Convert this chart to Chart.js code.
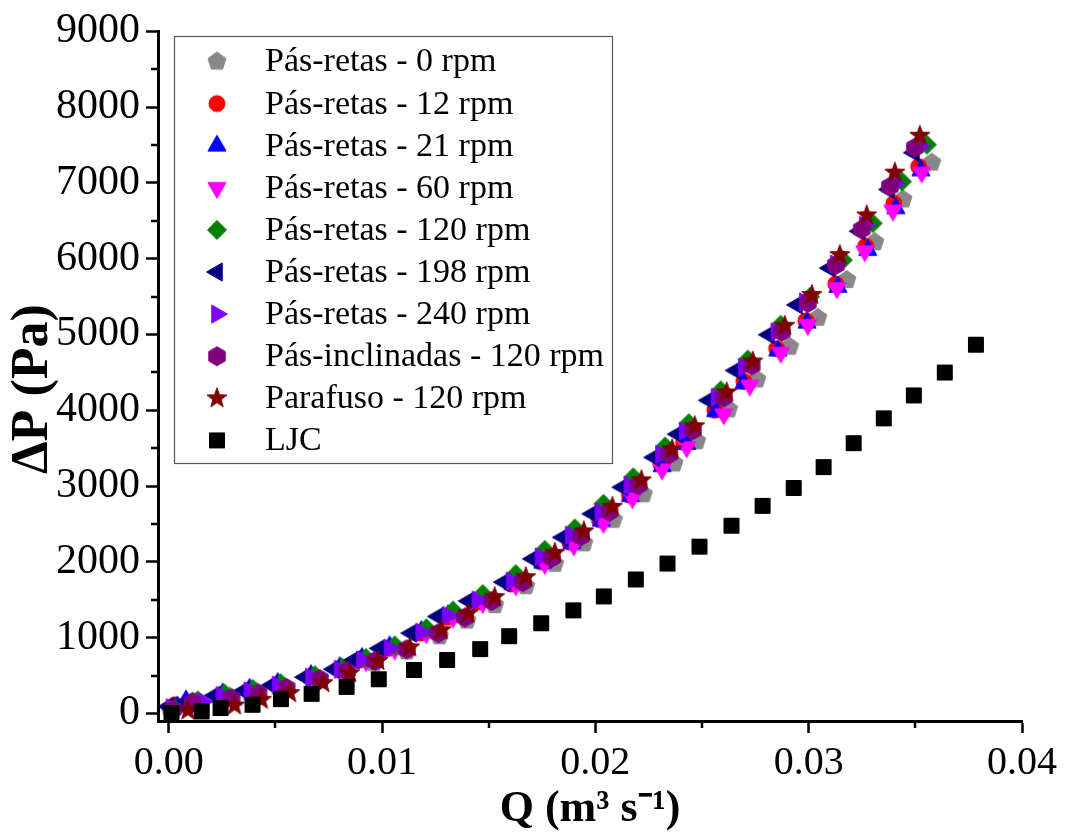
<!DOCTYPE html>
<html><head><meta charset="utf-8">
<script src="https://cdn.jsdelivr.net/npm/chart.js@4.4.0/dist/chart.umd.min.js"></script>
<style>html,body{margin:0;padding:0;background:#fff}canvas{display:block}</style>
</head><body>
<canvas id="c" width="1067" height="836"></canvas>
<script>
// ---------------- data ----------------
const seriesNames = ['Pás-retas - 0 rpm','Pás-retas - 12 rpm','Pás-retas - 21 rpm','Pás-retas - 60 rpm','Pás-retas - 120 rpm','Pás-retas - 198 rpm','Pás-retas - 240 rpm','Pás-inclinadas - 120 rpm','Parafuso - 120 rpm','LJC'];

const q0rpm = [0.00005,0.00128,0.00286,0.00412,0.00544,0.00700,0.00826,0.00962,0.01116,0.01269,0.01398,0.01528,0.01674,0.01810,0.01946,0.02085,0.02225,0.02369,0.02475,0.02625,0.02757,0.02911,0.03043,0.03179,0.03310,0.03442,0.03577];
const p0rpm = [62,144,223,285,347,451,543,666,819,1019,1226,1430,1680,1974,2245,2555,2892,3299,3592,4012,4406,4838,5219,5718,6217,6781,7267];

const q12rpm = [0.00030,0.00137,0.00243,0.00374,0.00506,0.00662,0.00797,0.00901,0.01032,0.01180,0.01305,0.01444,0.01604,0.01744,0.01880,0.02019,0.02160,0.02308,0.02414,0.02560,0.02696,0.02850,0.02987,0.03127,0.03267,0.03399,0.03516];
const p12rpm = [114,157,236,298,373,478,582,705,858,1059,1266,1469,1706,2000,2258,2555,2879,3286,3579,3999,4380,4812,5180,5666,6164,6728,7214];

const q21rpm = [0.00040,0.00081,0.00253,0.00379,0.00511,0.00667,0.00802,0.00906,0.01036,0.01184,0.01309,0.01453,0.01613,0.01754,0.01890,0.02028,0.02164,0.02313,0.02428,0.02564,0.02696,0.02855,0.02992,0.03137,0.03277,0.03409,0.03526];
const p21rpm = [88,170,262,324,399,504,609,731,884,1085,1292,1483,1706,1987,2245,2542,2866,3260,3553,3986,4353,4786,5154,5626,6112,6663,7162];

const q60rpm = [0.00010,0.00113,0.00262,0.00393,0.00525,0.00681,0.00811,0.00925,0.01060,0.01208,0.01333,0.01472,0.01627,0.01763,0.01899,0.02038,0.02174,0.02313,0.02428,0.02602,0.02724,0.02869,0.02996,0.03132,0.03263,0.03395,0.03530];
const p60rpm = [50,144,210,285,360,465,569,692,845,1059,1266,1456,1693,1974,2218,2516,2840,3221,3513,3946,4327,4760,5127,5613,6099,6636,7136];

const q120rpm = [0.00030,0.00137,0.00262,0.00393,0.00525,0.00685,0.00811,0.00925,0.01060,0.01208,0.01333,0.01472,0.01627,0.01763,0.01904,0.02038,0.02178,0.02327,0.02438,0.02588,0.02715,0.02869,0.03006,0.03160,0.03300,0.03437,0.03554];
const p120rpm = [62,170,262,324,399,504,609,731,897,1124,1357,1574,1837,2157,2441,2765,3115,3522,3828,4261,4668,5127,5495,5980,6466,7017,7503];

const q198rpm = [0.00000,0.00090,0.00215,0.00351,0.00483,0.00639,0.00774,0.00868,0.00989,0.01137,0.01262,0.01406,0.01571,0.01707,0.01848,0.01986,0.02127,0.02276,0.02386,0.02532,0.02658,0.02813,0.02945,0.03099,0.03239,0.03376,0.03493];
const p198rpm = [92,157,236,298,373,478,582,705,858,1059,1279,1483,1732,2039,2323,2634,2984,3378,3684,4130,4524,4996,5390,5875,6361,6912,7398];

const q240rpm = [0.00014,0.00160,0.00248,0.00379,0.00511,0.00667,0.00802,0.00906,0.01036,0.01184,0.01309,0.01448,0.01608,0.01744,0.01885,0.02024,0.02160,0.02308,0.02419,0.02569,0.02696,0.02850,0.02982,0.03127,0.03263,0.03404,0.03521];
const p240rpm = [75,157,236,298,373,478,582,705,858,1072,1292,1496,1746,2066,2350,2660,3010,3417,3723,4169,4563,5035,5429,5928,6440,6991,7477];

const qIncl = [0.00020,0.00113,0.00295,0.00421,0.00553,0.00709,0.00835,0.00967,0.01116,0.01264,0.01389,0.01514,0.01660,0.01796,0.01932,0.02066,0.02202,0.02346,0.02457,0.02602,0.02733,0.02874,0.02996,0.03127,0.03249,0.03381,0.03498];
const pIncl = [50,144,197,259,334,451,556,692,845,1059,1266,1483,1732,2052,2336,2660,3010,3417,3737,4169,4590,5035,5416,5915,6387,6951,7464];

const qParafuso = [0.00090,0.00309,0.00435,0.00567,0.00723,0.00849,0.00981,0.01130,0.01278,0.01403,0.01528,0.01674,0.01810,0.01946,0.02080,0.02216,0.02360,0.02466,0.02616,0.02738,0.02888,0.03015,0.03146,0.03272,0.03404,0.03521];
const pParafuso = [39,105,180,268,399,530,692,871,1098,1318,1535,1798,2118,2402,2726,3076,3483,3789,4235,4642,5114,5521,6046,6571,7135,7621];

const qLJC = [0.00013,0.00155,0.00243,0.00393,0.00526,0.00670,0.00834,0.00985,0.01150,0.01305,0.01460,0.01596,0.01746,0.01897,0.02040,0.02190,0.02338,0.02488,0.02638,0.02784,0.02930,0.03070,0.03211,0.03352,0.03493,0.03638,0.03784];
const pLJC = [5,26,71,114,189,258,350,451,573,705,849,1019,1190,1360,1544,1767,1977,2200,2476,2738,2974,3250,3565,3893,4195,4497,4864];

const xTickValues = [0, 0.01, 0.02, 0.03, 0.04];
const xMinorValues = [0.005, 0.015, 0.025, 0.035];
const yTickValues = [0,1000,2000,3000,4000,5000,6000,7000,8000,9000];
const yMinorValues = [500,1500,2500,3500,4500,5500,6500,7500,8500];

// ---------------- markers ----------------
function polyPts(n, r, startDeg) {
  const pts = [];
  for (let k = 0; k < n; k++) {
    const a = (startDeg + k * 360 / n) * Math.PI / 180;
    pts.push([r * Math.cos(a), r * Math.sin(a)]);
  }
  return pts;
}
function makeMarker(shape, color) {
  const S = 24, c = document.createElement('canvas');
  c.width = S; c.height = S;
  const g = c.getContext('2d');
  g.translate(S / 2, S / 2);
  g.fillStyle = color; g.strokeStyle = color; g.lineWidth = 1;
  g.beginPath();
  let pts = null;
  if (shape === 'circle') { g.arc(0, 0, 8, 0, Math.PI * 2); }
  else if (shape === 'square') { g.rect(-7.5, -7.5, 15, 15); }
  else if (shape === 'pentagon') pts = polyPts(5, 9.5, -90);
  else if (shape === 'hexagon') pts = polyPts(6, 9.5, -90);
  else if (shape === 'up') pts = polyPts(3, 10.5, -90);
  else if (shape === 'down') pts = polyPts(3, 10.5, 90);
  else if (shape === 'left') pts = polyPts(3, 10.5, 180);
  else if (shape === 'right') pts = polyPts(3, 10.5, 0);
  else if (shape === 'diamond') pts = polyPts(4, 9.5, -90);
  else if (shape === 'star') {
    pts = [];
    for (let k = 0; k < 10; k++) {
      const r = k % 2 === 0 ? 10.5 : 4.3;
      const a = (-90 + k * 36) * Math.PI / 180;
      pts.push([r * Math.cos(a), r * Math.sin(a)]);
    }
  }
  if (pts) { g.moveTo(pts[0][0], pts[0][1]); for (let i = 1; i < pts.length; i++) g.lineTo(pts[i][0], pts[i][1]); g.closePath(); }
  g.fill(); g.stroke();
  return c;
}

const seriesQ = [q0rpm, q12rpm, q21rpm, q60rpm, q120rpm, q198rpm, q240rpm, qIncl, qParafuso, qLJC];
const seriesP = [p0rpm, p12rpm, p21rpm, p60rpm, p120rpm, p198rpm, p240rpm, pIncl, pParafuso, pLJC];
const shapes = ['pentagon','circle','up','down','diamond','left','right','hexagon','star','square'];
const colors = ['#888888','#ff0000','#0000ff','#ff00ff','#008000','#000080','#8000ff','#800080','#800000','#000000'];
const markers = shapes.map((s, i) => makeMarker(s, colors[i]));

const datasets = seriesNames.map((name, i) => ({
  label: name,
  data: seriesQ[i].map((q, j) => ({ x: q, y: seriesP[i][j] })),
  pointStyle: markers[i],
  pointRadius: 8, pointHoverRadius: 8,
  showLine: false,
  order: seriesNames.length - i,
  clip: false
}));

const FONT = "'Liberation Serif', 'Times New Roman', serif";

const legendPlugin = {
  id: 'boxLegend',
  afterDraw(chart) {
    const ctx = chart.ctx;
    ctx.save();
    ctx.fillStyle = '#fff';
    ctx.fillRect(174.5, 36.5, 438, 427);
    ctx.strokeStyle = '#555'; ctx.lineWidth = 1.2;
    ctx.strokeRect(174.5, 36.5, 438, 427);
    ctx.font = '34px ' + FONT;
    ctx.fillStyle = '#000';
    ctx.textBaseline = 'middle';
    ctx.textAlign = 'left';
    seriesNames.forEach((name, i) => {
      const y = 61.5 + i * 42.1;
      ctx.drawImage(markers[i], 217 - 12, y - 12);
      ctx.fillText(name, 265, y + 1);
    });
    ctx.restore();
  }
};

const minorTicks = {
  id: 'minorTicks',
  afterDraw(chart) {
    const { ctx, scales: { x, y }, chartArea } = chart;
    ctx.save();
    ctx.strokeStyle = '#000'; ctx.lineWidth = 2.5;
    xMinorValues.forEach(v => {
      const px = Math.round(x.getPixelForValue(v));
      ctx.beginPath(); ctx.moveTo(px, chartArea.bottom); ctx.lineTo(px, chartArea.bottom + 7); ctx.stroke();
    });
    yMinorValues.forEach(v => {
      const py = Math.round(y.getPixelForValue(v));
      ctx.beginPath(); ctx.moveTo(chartArea.left, py); ctx.lineTo(chartArea.left - 7, py); ctx.stroke();
    });
    ctx.restore();
  }
};

new Chart(document.getElementById('c'), {
  type: 'scatter',
  data: { datasets },
  options: {
    responsive: false,
    animation: false,
    events: [],
    layout: { padding: { left: 0, right: 45, top: 30, bottom: 0 } },
    plugins: { legend: { display: false }, tooltip: { enabled: false } },
    scales: {
      x: {
        type: 'linear', min: -0.0005, max: 0.04,
        afterBuildTicks: s => { s.ticks = xTickValues.map(v => ({ value: v })); },
        afterFit: s => { s.height = 115; },
        ticks: { color: '#000', font: { family: FONT, size: 40 }, padding: 6, maxRotation: 0, autoSkip: false,
                 callback: v => Number(v).toFixed(2) },
        grid: { drawOnChartArea: false, drawTicks: true, tickLength: 12, tickWidth: 2.5, tickColor: '#000' },
        border: { color: '#000', width: 3 },
        title: { display: true, text: 'Q (m³ s⁻¹)', color: '#000', font: { family: FONT, size: 44, weight: 'bold' }, padding: { top: 0, bottom: 0 } }
      },
      y: {
        type: 'linear', min: -100, max: 9000,
        afterBuildTicks: s => { s.ticks = yTickValues.map(v => ({ value: v })); },
        afterFit: s => { s.width = 158; },
        ticks: { color: '#000', font: { family: FONT, size: 42 }, padding: 6, autoSkip: false,
                 callback: v => String(v) },
        grid: { drawOnChartArea: false, drawTicks: true, tickLength: 12, tickWidth: 2.5, tickColor: '#000' },
        border: { color: '#000', width: 3 },
        title: { display: true, text: 'ΔP (Pa)  ', color: '#000', font: { family: FONT, size: 52, weight: 'bold' }, padding: { top: 2, bottom: 0 } }
      }
    }
  },
  plugins: [minorTicks, legendPlugin]
});
</script>
</body></html>
